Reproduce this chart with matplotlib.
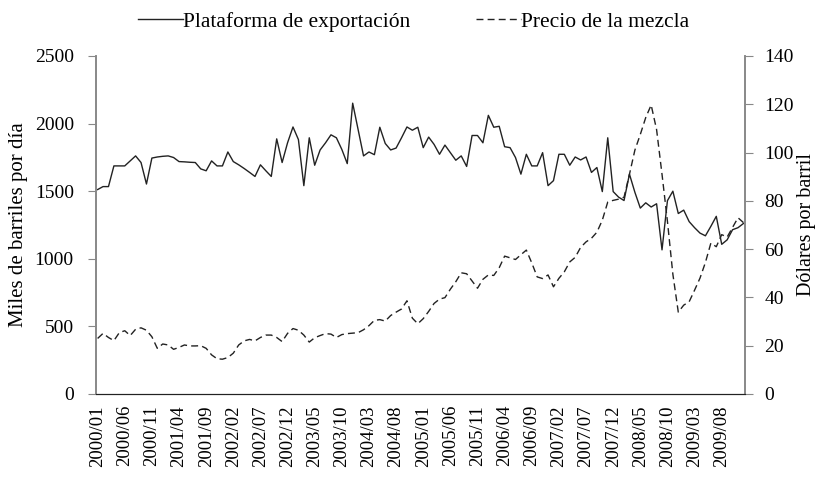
import matplotlib
matplotlib.use("Agg")
import matplotlib.pyplot as plt

plt.rcParams['font.family'] = ['Liberation Serif', 'DejaVu Serif']

# meses 2000/01 .. 2009/12
years = range(2000, 2010)
months = [f"{y}/{m:02d}" for y in years for m in range(1, 13)]

# Plataforma de exportación (miles de barriles por día)
plataforma = [
    1512, 1534, 1534, 1687, 1687, 1687, 1724, 1761, 1712, 1553,
    1745, 1753, 1758, 1761, 1749, 1719, 1717, 1714, 1712, 1665,
    1651, 1724, 1687, 1687, 1790, 1719, 1695, 1668, 1639, 1609,
    1695, 1651, 1609, 1887, 1712, 1858, 1975, 1882, 1541, 1895,
    1692, 1805, 1858, 1917, 1895, 1809, 1704, 2151, 1956, 1761,
    1790, 1770, 1973, 1853, 1805, 1819, 1895, 1975, 1951, 1973,
    1822, 1900, 1846, 1773, 1841, 1785, 1729, 1761, 1683, 1912,
    1912, 1858, 2061, 1973, 1980, 1829, 1822, 1749, 1626, 1773,
    1687, 1687, 1785, 1541, 1578, 1773, 1773, 1692, 1753, 1731,
    1753, 1639, 1675, 1497, 1895, 1497, 1456, 1431, 1626, 1492,
    1375, 1414, 1383, 1407, 1066, 1430, 1500, 1335, 1360, 1275,
    1230, 1190, 1170, 1240, 1314, 1107, 1140, 1215, 1230, 1261,
]

# Precio de la mezcla (dólares por barril)
precio = [
    23.0, 25.1, 23.4, 22.1, 25.4, 26.2, 24.2, 26.8, 27.4, 26.4,
    23.7, 18.9, 20.7, 20.3, 18.5, 19.3, 20.3, 19.9, 19.9, 20.0,
    18.9, 16.2, 14.6, 14.4, 15.1, 16.9, 20.3, 22.0, 22.6, 22.0,
    23.4, 24.4, 24.4, 23.4, 21.7, 25.1, 27.1, 26.4, 24.4, 21.5,
    23.3, 24.2, 25.0, 24.8, 23.4, 24.6, 25.0, 25.2, 25.4, 26.6,
    28.3, 30.5, 30.8, 30.2, 32.5, 33.9, 35.2, 38.6, 31.4, 29.1,
    31.2, 34.2, 37.5, 39.3, 39.9, 43.4, 46.5, 50.2, 49.8, 46.8,
    43.8, 47.5, 49.3, 49.1, 52.3, 57.1, 56.4, 55.7, 57.7, 59.6,
    54.3, 48.5, 47.8, 49.3, 44.4, 47.9, 50.6, 54.7, 56.6, 60.7,
    63.0, 64.5, 67.0, 72.0, 79.5, 80.2, 80.7, 81.5, 91.0, 101.0,
    107.5, 114.5, 119.7, 109.5, 91.0, 71.5, 49.6, 33.9, 36.8, 38.2,
    43.0, 48.0, 54.5, 62.5, 61.0, 66.0, 65.0, 69.0, 73.0, 71.0,
]

x = list(range(len(months)))
tick_idx = x[::5]

fig = plt.figure(figsize=(8.19, 4.79), dpi=100)
ax = fig.add_axes([0.1172, 0.1775, 0.7925, 0.7056])
ax2 = ax.twinx()

l1, = ax.plot(x, plataforma, color='#222222', lw=1.0, label='Plataforma de exportación')
l2, = ax2.plot(x, precio, color='#222222', lw=1.0, ls=(0, (5, 3)), label='Precio de la mezcla')

ax.set_xlim(-0.3, 119.3)
ax.set_ylim(0, 2500)
ax2.set_ylim(0, 140)
ax.set_yticks(range(0, 2501, 500))
ax2.set_yticks(range(0, 141, 20))

ax.set_xticks(tick_idx)
ax.set_xticklabels([months[i] for i in tick_idx], rotation=90, fontsize=13.5)
ax.tick_params(axis='x', length=0, pad=8)
ax.tick_params(axis='y', labelsize=14, length=6, color='#888888', direction='out', pad=10)
ax2.tick_params(axis='y', labelsize=14, length=6, color='#888888', direction='out', pad=8)

for a in (ax, ax2):
    a.spines['top'].set_visible(False)
    a.spines['left'].set_color('#888888')
    a.spines['right'].set_color('#888888')
    a.spines['bottom'].set_color('#222222')
    a.spines['left'].set_linewidth(1.2)
    a.spines['right'].set_linewidth(1.2)

ax.set_ylabel('Miles de barriles por día', fontsize=15, labelpad=5)
ax2.set_ylabel('Dólares por barril', fontsize=14.5, labelpad=2)

fig.legend(handles=[l1, l2], loc='upper left', bbox_to_anchor=(0.155, 0.998),
           ncol=2, frameon=False, fontsize=15.5, handlelength=2.1,
           handletextpad=0.0, columnspacing=3.05, borderpad=0)

fig.savefig('out.png', dpi=100)
